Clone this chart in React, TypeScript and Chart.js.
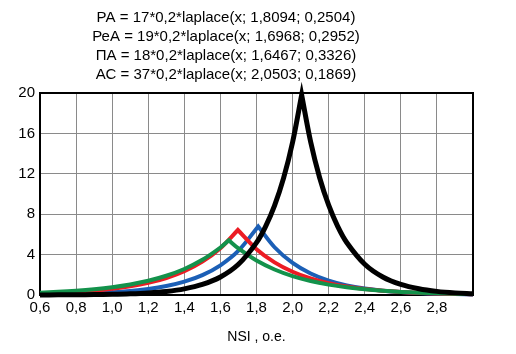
import React, { useEffect, useRef } from 'react';
import { Chart, registerables } from 'chart.js';

Chart.register(...registerables);

const titleLines = [
  'РА = 17*0,2*laplace(x; 1,8094; 0,2504)',
  'РеА = 19*0,2*laplace(x; 1,6968; 0,2952)',
  'ПА = 18*0,2*laplace(x; 1,6467; 0,3326)',
  'АС = 37*0,2*laplace(x; 2,0503; 0,1869)',
];
const xAxisTitle = 'NSI , о.е.';
const xTickLabels = ['0,6', '0,8', '1,0', '1,2', '1,4', '1,6', '1,8', '2,0', '2,2', '2,4', '2,6', '2,8', ''];
const yTickLabels = ['0', '4', '8', '12', '16', '20'];

// РА (blue)
const xRA = [0.6, 0.7, 0.8, 0.9, 1.0, 1.1, 1.2, 1.3, 1.4, 1.5, 1.6, 1.7, 1.8094, 1.9, 2.0, 2.1, 2.2, 2.3, 2.4, 2.5, 2.6, 2.7, 2.8, 2.9, 3.0];
const yRA = [0.054, 0.081, 0.121, 0.180, 0.268, 0.399, 0.596, 0.888, 1.324, 1.973, 2.942, 4.386, 6.789, 4.728, 3.171, 2.127, 1.427, 0.957, 0.642, 0.431, 0.289, 0.194, 0.130, 0.087, 0.059];

// РеА (red)
const xReA = [0.6, 0.7, 0.8, 0.9, 1.0, 1.1, 1.2, 1.3, 1.4, 1.5, 1.6, 1.6968, 1.8, 1.9, 2.0, 2.1, 2.2, 2.3, 2.4, 2.5, 2.6, 2.7, 2.8, 2.9, 3.0];
const yReA = [0.157, 0.220, 0.309, 0.433, 0.608, 0.852, 1.196, 1.678, 2.355, 3.305, 4.637, 6.436, 4.538, 3.234, 2.305, 1.642, 1.170, 0.834, 0.594, 0.424, 0.302, 0.215, 0.153, 0.109, 0.078];

// ПА (green)
const xPA = [0.6, 0.7, 0.8, 0.9, 1.0, 1.1, 1.2, 1.3, 1.4, 1.5, 1.6, 1.6467, 1.7, 1.8, 1.9, 2.0, 2.1, 2.2, 2.3, 2.4, 2.5, 2.6, 2.7, 2.8, 2.9, 3.0];
const yPA = [0.233, 0.314, 0.424, 0.573, 0.774, 1.046, 1.413, 1.908, 2.578, 3.482, 4.703, 5.412, 4.611, 3.413, 2.527, 1.871, 1.385, 1.025, 0.759, 0.562, 0.416, 0.308, 0.228, 0.169, 0.125, 0.093];

// АС (black)
const xAC = [0.6, 0.7, 0.8, 0.9, 1.0, 1.1, 1.2, 1.3, 1.4, 1.5, 1.6, 1.7, 1.8, 1.85, 1.9, 1.95, 2.0, 2.0503, 2.1, 2.15, 2.2, 2.25, 2.3, 2.4, 2.5, 2.6, 2.7, 2.8, 2.9, 3.0];
const yAC = [0.008, 0.014, 0.025, 0.042, 0.072, 0.123, 0.209, 0.357, 0.610, 1.042, 1.779, 3.038, 5.188, 6.779, 8.858, 11.575, 15.126, 19.797, 15.174, 11.612, 8.887, 6.801, 5.204, 3.048, 1.785, 1.045, 0.612, 0.359, 0.210, 0.123];

const FONT = "'Liberation Sans', Arial, sans-serif";

function points(xs: number[], ys: number[]) {
  const p = xs.map((x, i) => ({ x, y: ys[i] }));
  const k = ys.indexOf(Math.max(...ys));
  p.splice(k, 0, { ...p[k] });
  return p;
}

const framePlugin = {
  id: 'frame',
  beforeDatasetsDraw(chart: any) {
    const { ctx, chartArea: a } = chart;
    ctx.save();
    ctx.strokeStyle = '#000';
    ctx.lineWidth = 2;
    ctx.strokeRect(a.left, a.top, a.right - a.left, a.bottom - a.top);
    ctx.restore();
  },
};

export default function App() {
  const ref = useRef<HTMLCanvasElement>(null);
  useEffect(() => {
    if (!ref.current) return;
    const mk = (xs: number[], ys: number[], color: string, width: number) => ({
      data: points(xs, ys),
      borderColor: color,
      backgroundColor: color,
      borderWidth: width,
      pointRadius: 0,
      tension: 0.35,
      borderJoinStyle: 'miter' as const,
      borderCapStyle: 'butt' as const,
      clip: false as any,
      fill: false,
    });
    const chart = new Chart(ref.current, {
      type: 'line',
      data: {
        datasets: [
          mk(xAC, yAC, '#000000', 5),
          mk(xPA, yPA, '#13924b', 4),
          mk(xReA, yReA, '#ec1c24', 4),
          mk(xRA, yRA, '#1b5fb6', 4),
        ],
      },
      options: {
        responsive: false,
        animation: false,
        layout: { padding: { top: 85, right: 35, left: 0, bottom: 0 } },
        plugins: { legend: { display: false }, tooltip: { enabled: false }, title: { display: false } },
        scales: {
          x: {
            type: 'linear',
            min: 0.6,
            max: 3.0,
            afterFit: (s: any) => { s.height = 51; },
            ticks: {
              stepSize: 0.2,
              autoSkip: false,
              maxRotation: 0,
              padding: 4,
              color: '#000',
              font: { family: FONT, size: 15 },
              callback: (_v: any, i: number) => xTickLabels[i] ?? '',
            },
            grid: { color: '#8a8a8a', lineWidth: 1, drawTicks: false },
            border: { display: true, color: '#000', width: 2 },
            title: { display: true, text: xAxisTitle, color: '#000', font: { family: FONT, size: 14 }, padding: 0 },
          },
          y: {
            min: 0,
            max: 20,
            afterFit: (s: any) => { s.width = 32; },
            ticks: {
              stepSize: 4,
              padding: 5,
              color: '#000',
              font: { family: FONT, size: 15 },
              callback: (_v: any, i: number) => yTickLabels[i] ?? '',
            },
            grid: { color: '#8a8a8a', lineWidth: 1, drawTicks: false },
            border: { display: true, color: '#000', width: 2 },
          },
        },
      },
      plugins: [framePlugin],
    });
    return () => chart.destroy();
  }, []);

  return (
    <div style={{ position: 'relative', width: 500, height: 338, fontFamily: FONT }}>
      <canvas ref={ref} width={500} height={338} style={{ display: 'block' }} />
      <div
        style={{
          position: 'absolute',
          left: 0,
          top: -1,
          width: 436,
          textAlign: 'center',
          fontSize: 15,
          lineHeight: '19px',
          color: '#000',
          fontFamily: FONT,
        }}
      >
        {titleLines.map((t) => (
          <div key={t}>{t}</div>
        ))}
      </div>
    </div>
  );
}
